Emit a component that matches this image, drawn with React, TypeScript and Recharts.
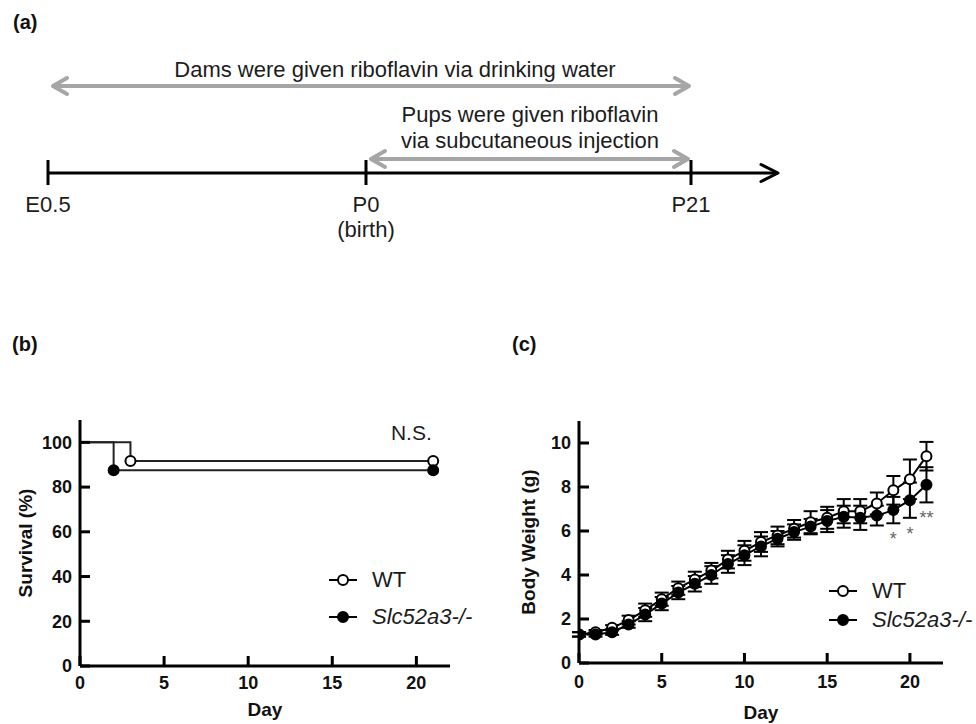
import React from "react";
import {
  LineChart,
  Line,
  XAxis,
  YAxis,
  ErrorBar,
  ReferenceDot,
  Legend,
} from "recharts";

const FONT = '"Liberation Sans", Arial, Helvetica, sans-serif';
const GREY = "#a6a6a6";
const INK = "#1c1c1c";

// (a) schematic timeline, positions along the (not to scale) time axis
const stageLabels = ["E0.5", "P0", "P21"];
const stageNotes = ["", "(birth)", ""];
const stagePos = [0, 318, 643];
const timelineEnd = 730;
const damsSpan = [5, 641];
const pupsSpan = [323, 640];
const damsText = "Dams were given riboflavin via drinking water";
const pupsText = ["Pups were given riboflavin", "via subcutaneous injection"];
const damsTextPos = 347;
const pupsTextPos = 482;

// (b) survival
const wtSurvDays = [0, 3, 21];
const wtSurv = [100, 91.7, 91.7];
const koSurvDays = [0, 2, 21];
const koSurv = [100, 87.5, 87.5];
const survTicks = [0, 20, 40, 60, 80, 100];
const dayTicks = [0, 5, 10, 15, 20];
const nsNote = { day: 19.7, pct: 101, text: "N.S." };

// (c) body weight
const days = [0, 1, 2, 3, 4, 5, 6, 7, 8, 9, 10, 11, 12, 13, 14, 15, 16, 17, 18, 19, 20, 21];
const wtWeight = [1.3, 1.4, 1.6, 1.95, 2.4, 2.9, 3.4, 3.8, 4.2, 4.7, 5.1, 5.5, 5.8, 6.1, 6.4, 6.6, 6.9, 6.9, 7.25, 7.85, 8.35, 9.4];
const wtSem = [0.1, 0.1, 0.12, 0.2, 0.3, 0.3, 0.3, 0.35, 0.35, 0.4, 0.45, 0.45, 0.4, 0.4, 0.5, 0.5, 0.55, 0.55, 0.5, 0.65, 0.9, 0.65];
const koWeight = [1.3, 1.3, 1.4, 1.75, 2.2, 2.7, 3.2, 3.6, 4.0, 4.5, 4.9, 5.3, 5.65, 5.95, 6.2, 6.45, 6.65, 6.6, 6.7, 6.95, 7.4, 8.1];
const koSem = [0.1, 0.1, 0.12, 0.15, 0.3, 0.3, 0.3, 0.35, 0.4, 0.4, 0.45, 0.45, 0.35, 0.35, 0.35, 0.5, 0.5, 0.55, 0.45, 0.6, 0.8, 0.8];
const sigMarks = ["", "", "", "", "", "", "", "", "", "", "", "", "", "", "", "", "", "", "", "*", "*", "**"];
const weightTicks = [0, 2, 4, 6, 8, 10];

const seriesNames = ["WT", "Slc52a3-/-"];

// vertical rows of the schematic (panel pixels)
const ROW = { damsText: 77, dams: 86, pups1: 122, pups2: 148, pups: 159, axis: 173 };

const wtSurvRows = wtSurvDays.map((d, i) => ({ day: d, wt: wtSurv[i] }));
const koSurvRows = koSurvDays.map((d, i) => ({ day: d, ko: koSurv[i] }));
const weightRows = days.map((d, i) => ({
  day: d,
  wt: wtWeight[i],
  wtSem: wtSem[i],
  ko: koWeight[i],
  koSem: koSem[i],
  sig: sigMarks[i],
  sigY: sigMarks[i] ? koWeight[i] - koSem[i] : null,
}));

const axisRows = [
  ...stagePos.map((p, i) => ({ pos: p, level: ROW.axis, label: stageLabels[i], note: stageNotes[i], end: false })),
  { pos: timelineEnd, level: ROW.axis, label: "", note: "", end: true },
];
const damsRows = damsSpan.map((p) => ({ pos: p, level: ROW.dams }));
const pupsRows = pupsSpan.map((p) => ({ pos: p, level: ROW.pups }));
const noteRows = [
  { pos: damsTextPos, level: ROW.damsText, text: damsText },
  { pos: pupsTextPos, level: ROW.pups1, text: pupsText[0] },
  { pos: pupsTextPos, level: ROW.pups2, text: pupsText[1] },
];

function chevron(x: number, y: number, dir: number, color: string, width: number, len: number, half: number) {
  return (
    <polyline
      points={`${x - dir * len},${y - half} ${x},${y} ${x - dir * len},${y + half}`}
      fill="none"
      stroke={color}
      strokeWidth={width}
      strokeLinejoin="round"
      strokeLinecap="round"
    />
  );
}

const greyArrowDot = (p: any) => (
  <g key={p.index}>{chevron(p.cx, p.cy, p.index === 0 ? -1 : 1, GREY, 4, 14, 8)}</g>
);

const axisDot = (p: any) => {
  const row = p.payload;
  if (row.end) return <g key={p.index}>{chevron(p.cx, p.cy, 1, "#000", 3, 17, 8.5)}</g>;
  return (
    <g key={p.index}>
      <line x1={p.cx} x2={p.cx} y1={p.cy - 13} y2={p.cy + 12} stroke="#000" strokeWidth={3} />
      <text x={p.cx} y={p.cy + 39} textAnchor="middle" fontSize={22} fontFamily={FONT} fill={INK}>
        {row.label}
      </text>
      {row.note ? (
        <text x={p.cx} y={p.cy + 64} textAnchor="middle" fontSize={22} fontFamily={FONT} fill={INK}>
          {row.note}
        </text>
      ) : null}
    </g>
  );
};

const noteDot = (p: any) => (
  <text key={p.index} x={p.cx} y={p.cy} textAnchor="middle" fontSize={22} fontFamily={FONT} fill={INK}>
    {p.payload.text}
  </text>
);

const textAt = (text: string, size: number) => (p: any) => (
  <text x={p.cx} y={p.cy} textAnchor="middle" fontSize={size} fontFamily={FONT} fill={INK}>
    {text}
  </text>
);

function YTick({ x, y, payload }: any) {
  return (
    <g>
      <line x1={x} x2={x + 10} y1={y} y2={y} stroke="#000" strokeWidth={3} />
      <text x={x - 8} y={y} dy={6.4} textAnchor="end" fontSize={18} fontWeight="bold" fontFamily={FONT} fill="#111">
        {payload.value}
      </text>
    </g>
  );
}

function makeXTick(gap: number) {
  return ({ x, y, payload }: any) => (
    <g>
      <line x1={x} x2={x} y1={y} y2={y - 10} stroke="#000" strokeWidth={3} />
      <text x={x} y={y + gap} textAnchor="middle" fontSize={18} fontWeight="bold" fontFamily={FONT} fill="#111">
        {payload.value}
      </text>
    </g>
  );
}

function yTitle(text: string, offsetX: number) {
  return (props: any) => {
    const vb = props.viewBox;
    if (!vb) return null;
    const cx = vb.x + offsetX;
    const cy = vb.y + vb.height / 2;
    return (
      <text x={cx} y={cy} dy={6.5} transform={`rotate(-90 ${cx} ${cy})`} textAnchor="middle" fontSize={19} fontWeight="bold" fontFamily={FONT} fill="#111">
        {text}
      </text>
    );
  };
}

function xTitle(text: string, baseline: number) {
  return (props: any) => {
    const vb = props.viewBox;
    if (!vb) return null;
    return (
      <text x={vb.x + vb.width / 2} y={vb.y + baseline} textAnchor="middle" fontSize={19} fontWeight="bold" fontFamily={FONT} fill="#111">
        {text}
      </text>
    );
  };
}

function legendContent(rowHeight: number) {
  return () => (
    <div style={{ fontFamily: FONT }}>
      {seriesNames.map((name, i) => (
        <div key={name} style={{ display: "flex", alignItems: "center", height: rowHeight, whiteSpace: "nowrap" }}>
          <svg width={43} height={16} style={{ display: "block" }}>
            <line x1={0} x2={28} y1={8} y2={8} stroke="#000" strokeWidth={2} />
            <circle cx={14} cy={8} r={5} fill={i === 0 ? "#fff" : "#000"} stroke="#000" strokeWidth={2} />
          </svg>
          <span style={{ fontSize: 22, lineHeight: 1, color: INK, fontStyle: i === 0 ? "normal" : "italic" }}>{name}</span>
        </div>
      ))}
    </div>
  );
}

const survDot = (fill: string) => (p: any) =>
  p.index === 0 ? (
    <g key={p.index} />
  ) : (
    <circle key={p.index} cx={p.cx} cy={p.cy} r={5} fill={fill} stroke="#000" strokeWidth={2} />
  );

const starDot = (p: any) =>
  p.payload && p.payload.sig && p.cy != null ? (
    <text key={p.index} x={p.cx} y={p.cy + 22} textAnchor="middle" fontSize={18} fontFamily={FONT} fill="#666">
      {p.payload.sig}
    </text>
  ) : (
    <g key={p.index} />
  );

function TimelinePanel() {
  return (
    <LineChart width={976} height={260} margin={{ top: 0, right: 0, bottom: 0, left: 0 }}>
      <XAxis dataKey="pos" type="number" domain={[-48, 928]} allowDataOverflow hide />
      <YAxis type="number" domain={[0, 260]} allowDataOverflow reversed hide />
      <Line data={damsRows} dataKey="level" stroke={GREY} strokeWidth={4} dot={greyArrowDot} activeDot={false} isAnimationActive={false} />
      <Line data={pupsRows} dataKey="level" stroke={GREY} strokeWidth={4} dot={greyArrowDot} activeDot={false} isAnimationActive={false} />
      <Line data={axisRows} dataKey="level" stroke="#000" strokeWidth={3} dot={axisDot} activeDot={false} isAnimationActive={false} />
      <Line data={noteRows} dataKey="level" stroke="none" dot={noteDot} activeDot={false} isAnimationActive={false} />
    </LineChart>
  );
}

function SurvivalPanel() {
  return (
    <LineChart width={480} height={344} margin={{ top: 40, right: 30, bottom: 0, left: 0 }}>
      <XAxis
        dataKey="day"
        type="number"
        domain={[0, 22]}
        allowDataOverflow
        ticks={dayTicks}
        interval={0}
        height={58}
        tickSize={0}
        tickMargin={0}
        tickLine={false}
        axisLine={{ stroke: "#000", strokeWidth: 3 }}
        tick={makeXTick(23)}
        label={{ content: xTitle("Day", 50) }}
      />
      <YAxis
        type="number"
        domain={[0, 110]}
        allowDataOverflow
        ticks={survTicks}
        interval={0}
        width={80}
        tickSize={0}
        tickMargin={0}
        tickLine={false}
        axisLine={{ stroke: "#000", strokeWidth: 3 }}
        tick={(p: any) => <YTick {...p} />}
        label={{ content: yTitle("Survival (%)", 25) }}
      />
      <Legend
        layout="vertical"
        align="center"
        verticalAlign="middle"
        content={legendContent(37)}
        wrapperStyle={{ left: 329, top: 181, width: 150 }}
      />
      <Line
        data={wtSurvRows}
        dataKey="wt"
        name={seriesNames[0]}
        type="stepAfter"
        stroke="#222"
        strokeWidth={2}
        dot={survDot("#fff")}
        activeDot={false}
        isAnimationActive={false}
      />
      <Line
        data={koSurvRows}
        dataKey="ko"
        name={seriesNames[1]}
        type="stepAfter"
        stroke="#222"
        strokeWidth={2}
        dot={survDot("#000")}
        activeDot={false}
        isAnimationActive={false}
      />
      <ReferenceDot x={nsNote.day} y={nsNote.pct} ifOverflow="visible" shape={textAt(nsNote.text, 21)} />
    </LineChart>
  );
}

function WeightPanel() {
  return (
    <LineChart width={476} height={344} data={weightRows} margin={{ top: 41, right: 33, bottom: 0, left: 0 }}>
      <XAxis
        dataKey="day"
        type="number"
        domain={[0, 22]}
        allowDataOverflow
        ticks={dayTicks}
        interval={0}
        height={61}
        tickSize={0}
        tickMargin={0}
        tickLine={false}
        axisLine={{ stroke: "#000", strokeWidth: 3 }}
        tick={makeXTick(25)}
        label={{ content: xTitle("Day", 56) }}
      />
      <YAxis
        type="number"
        domain={[0, 11]}
        allowDataOverflow
        ticks={weightTicks}
        interval={0}
        width={79}
        tickSize={0}
        tickMargin={0}
        tickLine={false}
        axisLine={{ stroke: "#000", strokeWidth: 3 }}
        tick={(p: any) => <YTick {...p} />}
        label={{ content: yTitle("Body Weight (g)", 28) }}
      />
      <Legend
        layout="vertical"
        align="center"
        verticalAlign="middle"
        content={legendContent(29)}
        wrapperStyle={{ left: 329, top: 196, width: 150 }}
      />
      <Line
        dataKey="wt"
        name={seriesNames[0]}
        type="linear"
        stroke="#000"
        strokeWidth={2}
        dot={{ r: 5, fill: "#fff", stroke: "#000", strokeWidth: 2 }}
        activeDot={false}
        isAnimationActive={false}
      >
        <ErrorBar dataKey="wtSem" direction="y" width={7} stroke="#000" strokeWidth={2} />
      </Line>
      <Line
        dataKey="ko"
        name={seriesNames[1]}
        type="linear"
        stroke="#000"
        strokeWidth={2}
        dot={{ r: 5, fill: "#000", stroke: "#000", strokeWidth: 2 }}
        activeDot={false}
        isAnimationActive={false}
      >
        <ErrorBar dataKey="koSem" direction="y" width={7} stroke="#000" strokeWidth={2} />
      </Line>
      <Line
        dataKey="sigY"
        legendType="none"
        stroke="none"
        dot={starDot}
        activeDot={false}
        isAnimationActive={false}
      />
    </LineChart>
  );
}

export default function App() {
  const panelLabel = { fontSize: 20, fontWeight: "bold" as const, fontFamily: FONT, fill: "#111" };
  return (
    <div style={{ position: "absolute", left: 0, top: 0, width: 976, height: 724, overflow: "hidden", background: "#fff" }}>
      <div style={{ position: "absolute", left: 0, top: 0 }}>
        <TimelinePanel />
      </div>
      <div style={{ position: "absolute", left: 0, top: 380 }}>
        <SurvivalPanel />
      </div>
      <div style={{ position: "absolute", left: 500, top: 380 }}>
        <WeightPanel />
      </div>
      <svg width={976} height={724} style={{ position: "absolute", left: 0, top: 0, pointerEvents: "none" }}>
        <text x={13} y={29} {...panelLabel}>(a)</text>
        <text x={12} y={351} {...panelLabel}>(b)</text>
        <text x={512} y={351} {...panelLabel}>(c)</text>
      </svg>
    </div>
  );
}
